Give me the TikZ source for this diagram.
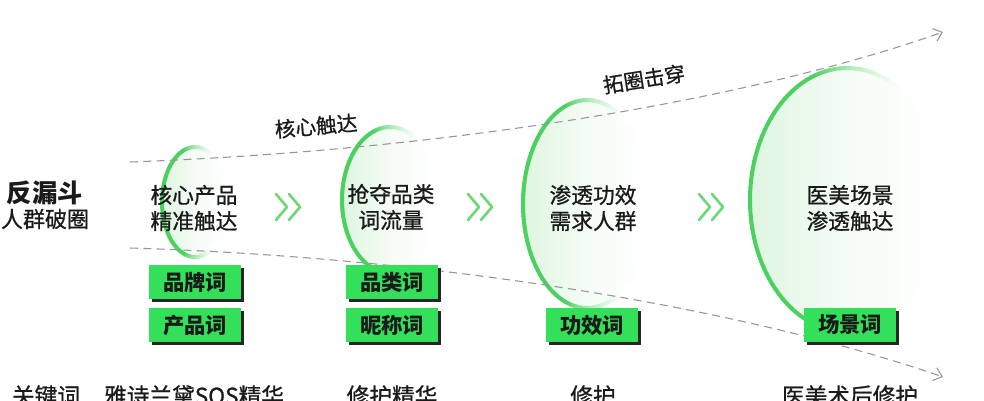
\documentclass[tikz,border=0pt]{standalone}
\usepackage{fontspec}
\setmainfont{Noto Sans CJK SC}
\newfontfamily\cjkmed[FakeBold=0.8]{Noto Sans CJK SC}
\usetikzlibrary{arrows.meta,shadows}
\definecolor{gstroke}{RGB}{76,208,96}
\definecolor{gfill}{RGB}{222,245,224}
\definecolor{gbox}{RGB}{52,224,90}
\definecolor{chev}{RGB}{110,216,120}
\definecolor{txt}{RGB}{26,26,26}
\definecolor{dashgray}{RGB}{150,150,150}
\tikzset{
  maintext/.style={font=\cjkmed\fontsize{16.3}{19.5}\selectfont, text=txt, align=center, inner sep=0pt},
  kwbox/.style={fill=gbox, minimum width=69pt, minimum height=25pt, inner sep=0pt,
    font=\fontsize{16}{18}\selectfont\bfseries, text=txt,
    drop shadow={shadow xshift=2.2pt, shadow yshift=-2.2pt, opacity=1, fill=black!85}},
  funnel/.style={draw=dashgray, line width=0.8pt, dash pattern=on 6pt off 4pt,
    -{Straight Barb[length=6pt,width=10pt]}},
  chevline/.style={draw=chev, line width=2pt, line cap=round, line join=round},
  funlabel/.style={font=\cjkmed\fontsize{15.5}{18}\selectfont, text=txt, inner sep=0pt},
  bottomtext/.style={font=\cjkmed\fontsize{17}{20}\selectfont, text=txt, inner sep=0pt, anchor=north},
}
\newcommand\greenring[4]{%
  \shade[left color=gfill, right color=white, middle color=gfill!30!white]
    (#1,#2) ellipse [x radius=#3, y radius=#4];
  \foreach \a in {50,53,...,310} {
    \pgfmathsetmacro\dd{abs(\a+1.5-180)}
    \pgfmathsetmacro\tt{max(0,min(1,(125-\dd)/55))}
    \pgfmathsetmacro\ff{100*\tt*(0.4+0.6*\tt)}
    \draw[line width=3pt, gstroke!\ff!white] (#1,#2) ++(\a:#3 and #4)
      arc[start angle=\a, end angle=\a+3.5, x radius=#3, y radius=#4];
  }
}
\newcommand\chevpair[2]{%
  \draw[chevline] (#1-12,#2-13) -- (#1-1,#2) -- (#1-12,#2+13);
  \draw[chevline] (#1+1,#2-13) -- (#1+12,#2) -- (#1+1,#2+13);
}
\begin{document}
\begin{tikzpicture}[x=0.75pt,y=-0.75pt]
\useasboundingbox (0,0) rectangle (984,400);
\fill[white] (0,0) rectangle (984,400);

% rings
\greenring{195}{202}{33}{55}
\greenring{390}{200}{48}{73}
\greenring{587}{204}{64}{104}
\greenring{847}{200}{97}{132}

% funnel lines
\coordinate (u0) at (130,162);
\coordinate (u1) at (943,32);
\coordinate (l0) at (130,248);
\coordinate (l1) at (943,377);
\draw[funnel] (u0) .. controls (450,150) and (750,100) .. (u1);
\draw[funnel] (l0) .. controls (450,258) and (750,310) .. (l1);

\node[funlabel, rotate=5] (lab1) at (316,126) {核心触达};
\node[funlabel, rotate=9] (lab2) at (644,79) {拓圈击穿};

% left title
\node[font=\fontsize{19}{22}\selectfont\bfseries, text=txt, inner sep=0pt] (t1) at (45,193) {反漏斗};
\node[font=\cjkmed\fontsize{16.5}{19}\selectfont, text=txt, inner sep=0pt] (t2) at (45,219) {人群破圈};

% stage texts
\node[maintext] (s1) at (194,208) {核心产品\\精准触达};
\node[maintext] (s2) at (391,207) {抢夺品类\\词流量};
\node[maintext] (s3) at (593,208) {渗透功效\\需求人群};
\node[maintext] (s4) at (850,208) {医美场景\\渗透触达};

% chevrons
\chevpair{288}{207}
\chevpair{480}{207}
\chevpair{711}{207}

% keyword boxes
\node[kwbox] (b1) at (195,282) {品牌词};
\node[kwbox] (b2) at (195,325) {产品词};
\node[kwbox] (b3) at (392,282) {品类词};
\node[kwbox] (b4) at (392,325) {昵称词};
\node[kwbox] (b5) at (592,325) {功效词};
\node[kwbox] (b6) at (850,325) {场景词};

% bottom row
\node[bottomtext] (k0) at (46,385) {关键词};
\node[bottomtext] (k1) at (194,385) {雅诗兰黛SOS精华};
\node[bottomtext] (k2) at (392,385) {修护精华};
\node[bottomtext] (k3) at (593,385) {修护};
\node[bottomtext] (k4) at (850,385) {医美术后修护};
\end{tikzpicture}
\end{document}
